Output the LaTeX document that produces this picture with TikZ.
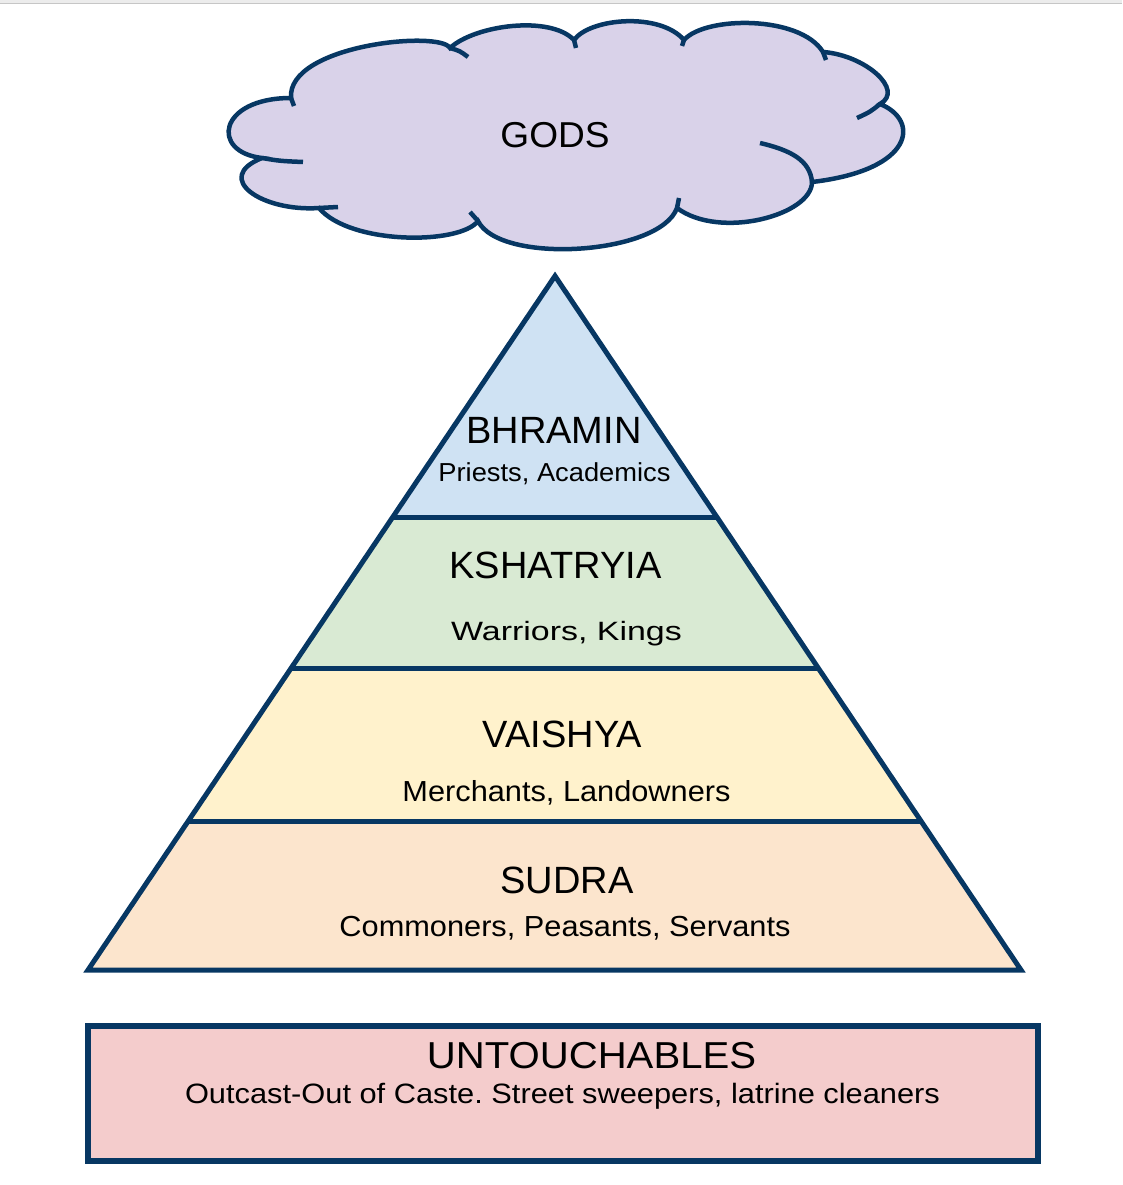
\documentclass[tikz,border=0pt]{standalone}
\usepackage{graphicx}
\usepackage{fontspec}
\setmainfont{Liberation Sans}
\usetikzlibrary{calc}
\frenchspacing

\definecolor{edgeblue}{HTML}{073763}
\definecolor{godsfill}{HTML}{D9D2E9}
\definecolor{bhraminfill}{HTML}{CFE2F3}
\definecolor{kshatfill}{HTML}{D9EAD3}
\definecolor{vaishfill}{HTML}{FFF2CC}
\definecolor{sudrafill}{HTML}{FCE5CD}
\definecolor{untfill}{HTML}{F4CCCC}

\tikzset{
  outline/.style={draw=edgeblue, line width=5pt, line join=miter},
  cloudline/.style={draw=edgeblue, line width=4.5pt},
  caste/.style={anchor=base, inner sep=0pt, font=\fontsize{#1}{#1}\selectfont},
  jobs/.style={anchor=base, inner sep=0pt, font=\fontsize{#1}{#1}\selectfont},
}

\begin{document}
\begin{tikzpicture}[x=1pt,y=-1pt]
\useasboundingbox (0,0) rectangle (1122,1185);
\fill[gray!15] (0,0) rectangle (1122,3); %window edge
\draw[gray!45, line width=1pt] (0,3.5) -- (1122,3.5);

% cloud
\draw[cloudline, fill=godsfill] (291,98) .. controls (287,45) and (440,30) .. (450,48)
  .. controls (475,25) and (550,15) .. (574,40)
  .. controls (590,18) and (660,12) .. (684,40)
  .. controls (705,16) and (800,15) .. (823,52)
  .. controls (865,55) and (905,90) .. (880,104)
  .. controls (920,120) and (915,170) .. (812,182)
  .. controls (812,215) and (720,240) .. (677,208)
  .. controls (660,255) and (500,265) .. (478,221)
  .. controls (460,245) and (350,245) .. (319,208)
  .. controls (262,212) and (212,178) .. (262,158)
  .. controls (210,152) and (218,98) .. (291,98) -- cycle;
\draw[cloudline] (291,98) -- (294,106);
\draw[cloudline] (450,48) .. controls (460,51) .. (468,57);
\draw[cloudline] (574,40) -- (576,48);
\draw[cloudline] (684,40) -- (682,46);
\draw[cloudline] (823,52) -- (826,60);
\draw[cloudline] (880,104) .. controls (870,112) .. (857,118);
\draw[cloudline] (812,182) .. controls (810,160) and (790,150) .. (760,143);
\draw[cloudline] (677,208) -- (679,198);
\draw[cloudline] (478,221) -- (470,212);
\draw[cloudline] (319,208) -- (338,207);
\draw[cloudline] (262,158) .. controls (280,161) .. (303,162);
\node[caste=36] (gods) at (555,148) {\scalebox{1.03}[1]{GODS}};

% pyramid
\coordinate (apex) at (555,276);
\coordinate (bl) at (88,970);
\coordinate (br) at (1021,970);
\coordinate (l1) at ($(apex)!{(517-276)/694}!(bl)$);
\coordinate (r1) at ($(apex)!{(517-276)/694}!(br)$);
\coordinate (l2) at ($(apex)!{(669-276)/694}!(bl)$);
\coordinate (r2) at ($(apex)!{(669-276)/694}!(br)$);
\coordinate (l3) at ($(apex)!{(821-276)/694}!(bl)$);
\coordinate (r3) at ($(apex)!{(821-276)/694}!(br)$);
\fill[bhraminfill] (apex) -- (l1) -- (r1) -- cycle;
\fill[kshatfill] (l1) -- (l2) -- (r2) -- (r1) -- cycle;
\fill[vaishfill] (l2) -- (l3) -- (r3) -- (r2) -- cycle;
\fill[sudrafill] (l3) -- (bl) -- (br) -- (r3) -- cycle;
\draw[outline] (apex) -- (bl) -- (br) -- cycle;
\draw[outline] (l1) -- (r1);
\draw[outline] (l2) -- (r2);
\draw[outline] (l3) -- (r3);

\node[caste=38] (bhramin) at (554,443) {BHRAMIN};
\node[jobs=26] (priests) at (554.5,481) {\scalebox{1.05}[1]{Priests, Academics}};
\node[caste=38] (kshatryia) at (555.5,578) {KSHATRYIA};
\node[jobs=26.5] (warriors) at (566.5,640) {\scalebox{1.28}[1]{Warriors, Kings}};
\node[caste=38] (vaishya) at (562.5,747) {VAISHYA};
\node[jobs=29] (merchants) at (566.5,801) {\scalebox{1.06}[1]{Merchants, Landowners}};
\node[caste=38] (sudra) at (567,893) {SUDRA};
\node[jobs=29] (commoners) at (565,936) {\scalebox{1.06}[1]{Commoners, Peasants, Servants}};

% outcasts
\draw[outline, fill=untfill, line width=5.5pt] (88,1026) rectangle (1038,1161);
\node[caste=37.5] (untouch) at (591.5,1068) {\scalebox{1.07}[1]{UNTOUCHABLES}};
\node[jobs=28] (outcast) at (562.5,1103) {\scalebox{1.1}[1]{Outcast-Out of Caste. Street sweepers, latrine cleaners}};
\end{tikzpicture}
\end{document}
